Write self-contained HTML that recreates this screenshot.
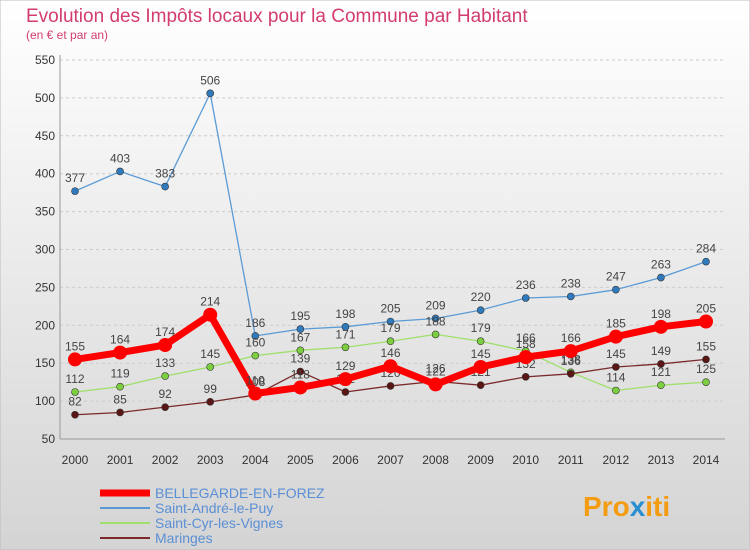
<!DOCTYPE html>
<html><head><meta charset="utf-8"><style>
body{margin:0;width:750px;height:550px;overflow:hidden;font-family:"Liberation Sans",sans-serif}
svg{display:block}
</style></head><body>
<svg id="c" width="750" height="550" xmlns="http://www.w3.org/2000/svg">
<defs><linearGradient id="bg" x1="0" y1="0" x2="0" y2="1"><stop offset="0" stop-color="#ffffff"/><stop offset="1" stop-color="#d4d4d4"/></linearGradient></defs>
<rect x="0" y="0" width="750" height="550" fill="url(#bg)" stroke="#bbb"/>
<text x="26" y="22" font-size="19" fill="#d23c6e">Evolution des Impôts locaux pour la Commune par Habitant</text>
<text x="26" y="39" font-size="12" fill="#d23c6e">(en € et par an)</text>
<g id="grid"></g><g id="series"></g><g id="legend"></g>
<text x="583" y="516" font-size="28" font-weight="bold" fill="#f39c12">Pro<tspan fill="#2a8fd1">x</tspan>iti</text>
</svg>
<script>
const years=[2000,2001,2002,2003,2004,2005,2006,2007,2008,2009,2010,2011,2012,2013,2014];
const yTicks=[50,100,150,200,250,300,350,400,450,500,550];
const bellegarde=[155,164,174,214,110,118,129,146,122,145,158,166,185,198,205];
const saintAndre=[377,403,383,506,186,195,198,205,209,220,236,238,247,263,284];
const saintCyr=[112,119,133,145,160,167,171,179,188,179,166,138,114,121,125];
const maringes=[82,85,92,99,108,139,112,120,126,121,132,136,145,149,155];
const NS="http://www.w3.org/2000/svg";
const X0=75,X1=706,YT=60,YB=439;
function xs(i){return X0+(X1-X0)*i/(years.length-1);}
function ys(v){return YB-(v-50)/(550-50)*(YB-YT);}
function mk(t,a,p){const e=document.createElementNS(NS,t);for(const k in a)e.setAttribute(k,a[k]);p.appendChild(e);return e;}
const grid=document.getElementById('grid');
yTicks.forEach(v=>{
 const l=mk('line',{x1:60,x2:725,y1:ys(v),y2:ys(v),stroke:'#ccc','stroke-dasharray':'3,3'},grid);
 
 
 const t=mk('text',{x:55,y:ys(v)+4,'font-size':12,'text-anchor':'end',fill:'#333'},grid);t.textContent=v;
 
 
});
const ax=mk('line',{x1:60,x2:60,y1:55,y2:ys(50),stroke:'#999'},grid);


const bx=mk('line',{x1:60,x2:725,y1:ys(50),y2:ys(50),stroke:'#999'},grid);


years.forEach((y,i)=>{
 const t=mk('text',{x:xs(i),y:464,'font-size':12,'text-anchor':'middle',fill:'#333'},grid);t.textContent=y;
 
 
});
const S=document.getElementById('series');
const defs=[
 {n:'saint-andre',d:saintAndre,c:'#5b9bd5',dot:'#2f7bbd',w:1.3,r:3.5},
 {n:'saint-cyr',d:saintCyr,c:'#9ee06a',dot:'#7ccf3f',w:1.3,r:3.5},
 {n:'maringes',d:maringes,c:'#7a2a2a',dot:'#5a1515',w:1.3,r:3.5},
 {n:'bellegarde',d:bellegarde,c:'#ff0000',dot:'#ff0000',w:7,r:7}];
defs.forEach(s=>{
 const g=mk('g',{},S);
 
 
 const p=mk('polyline',{points:s.d.map((v,i)=>xs(i)+','+ys(v)).join(' '),fill:'none',stroke:s.c,'stroke-width':s.w,'stroke-linejoin':'round'},g);
 
 
 s.d.forEach((v,i)=>{
  const c=mk('circle',{cx:xs(i),cy:ys(v),r:s.r,fill:s.dot,stroke:'#333','stroke-width':s.r>5?0:0.6},g);
  
  
  const t=mk('text',{x:xs(i),y:ys(v)-9,'font-size':12,'text-anchor':'middle',fill:'#444'},g);t.textContent=v;
  
  
 });
});
const L=document.getElementById('legend');
const leg=[['BELLEGARDE-EN-FOREZ','#ff0000',7],['Saint-André-le-Puy','#5b9bd5',2],['Saint-Cyr-les-Vignes','#9ee06a',2],['Maringes','#7a2a2a',2]];
leg.forEach((e,i)=>{
 const y=493+i*15;
 const l=mk('line',{x1:100,x2:150,y1:y,y2:y,stroke:e[1],'stroke-width':e[2]},L);
 
 
 const t=mk('text',{x:155,y:y+5,'font-size':14,fill:'#5b8fd5'},L);t.textContent=e[0];
 
 
});
</script>
</body></html>
